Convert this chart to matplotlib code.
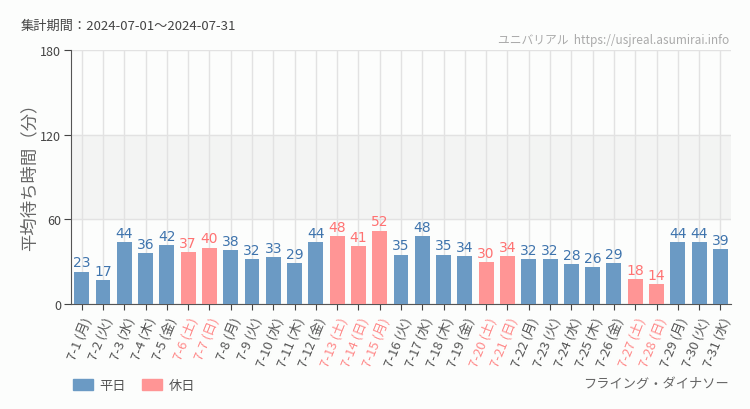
import matplotlib.pyplot as plt
from matplotlib.patches import Patch

plt.rcParams['font.family'] = ['Noto Sans CJK JP', 'DejaVu Sans']

# data
days = list(range(1, 32))
weekdays = ['月', '火', '水', '木', '金', '土', '日']
values = [23, 17, 44, 36, 42, 37, 40, 38, 32, 33, 29, 44, 48, 41, 52, 35,
          48, 35, 34, 30, 34, 32, 32, 28, 26, 29, 18, 14, 44, 44, 39]
holidays = [6, 7, 13, 14, 15, 20, 21, 27, 28]

labels = [f"7-{d} ({weekdays[(d - 1) % 7]})" for d in days]

BLUE = '#6b9ac4'
PINK = '#ff9595'
BLUE_TXT = '#3f74ad'
PINK_TXT = '#ff7272'

fig = plt.figure(figsize=(7.5, 4.1), dpi=100, facecolor='#fcfdfc')
ax = fig.add_axes([0.0947, 0.256, 0.88, 0.62])
ax.set_facecolor('#fcfdfc')

x = list(range(len(days)))
colors = [PINK if d in holidays else BLUE for d in days]
ax.bar(x, values, width=0.7, color=colors, zorder=3)

for i, (d, v) in enumerate(zip(days, values)):
    ax.text(i, v + 1.5, str(v), ha='center', va='bottom', fontsize=10,
            family=['Liberation Sans Narrow', 'DejaVu Sans'],
            color=PINK_TXT if d in holidays else BLUE_TXT, zorder=4)

ax.axhspan(60, 120, color='#f3f4f3', zorder=0)
ax.set_xlim(-0.5, len(days) - 0.5)
ax.set_ylim(0, 180)
ax.set_yticks([0, 60, 120, 180])
ax.set_xticks(x)
ax.set_xticklabels(labels, rotation=68, ha='right', rotation_mode='anchor',
                   fontsize=9.5, color='#555555')
for lbl, d in zip(ax.get_xticklabels(), days):
    if d in holidays:
        lbl.set_color('#ff8a8a')
ax.tick_params(axis='y', labelsize=9, colors='#444444', length=5, pad=2)
ax.tick_params(axis='x', length=4, color='#444444', pad=4)
ax.grid(True, color='#e2e2e2', linewidth=1, zorder=1)
for s in ['top', 'right']:
    ax.spines[s].set_visible(False)
for s in ['left', 'bottom']:
    ax.spines[s].set_color('#555555')
ax.set_ylabel('平均待ち時間（分）', fontsize=12.5, color='#666666')
ax.yaxis.set_label_coords(-0.05, 0.52)

fig.text(0.027, 0.935, '集計期間：2024-07-01～2024-07-31', fontsize=9.5,
         color='#444444', va='center')
fig.text(0.972, 0.902, 'ユニバリアル  https://usjreal.asumirai.info', fontsize=8.5,
         color='#aaaaaa', ha='right', va='center')
fig.text(0.972, 0.062, 'フライング・ダイナソー', fontsize=9.5,
         color='#666666', ha='right', va='center')

handles = [Patch(color=BLUE, label='平日'), Patch(color=PINK, label='休日')]
fig.legend(handles=handles, loc='center left', bbox_to_anchor=(0.082, 0.058),
           ncol=2, frameon=False, fontsize=9.5, handlelength=1.5,
           handleheight=0.9, handletextpad=0.5, columnspacing=1.2,
           labelcolor='#555555')

fig.savefig('out.png', dpi=100, facecolor=fig.get_facecolor())
